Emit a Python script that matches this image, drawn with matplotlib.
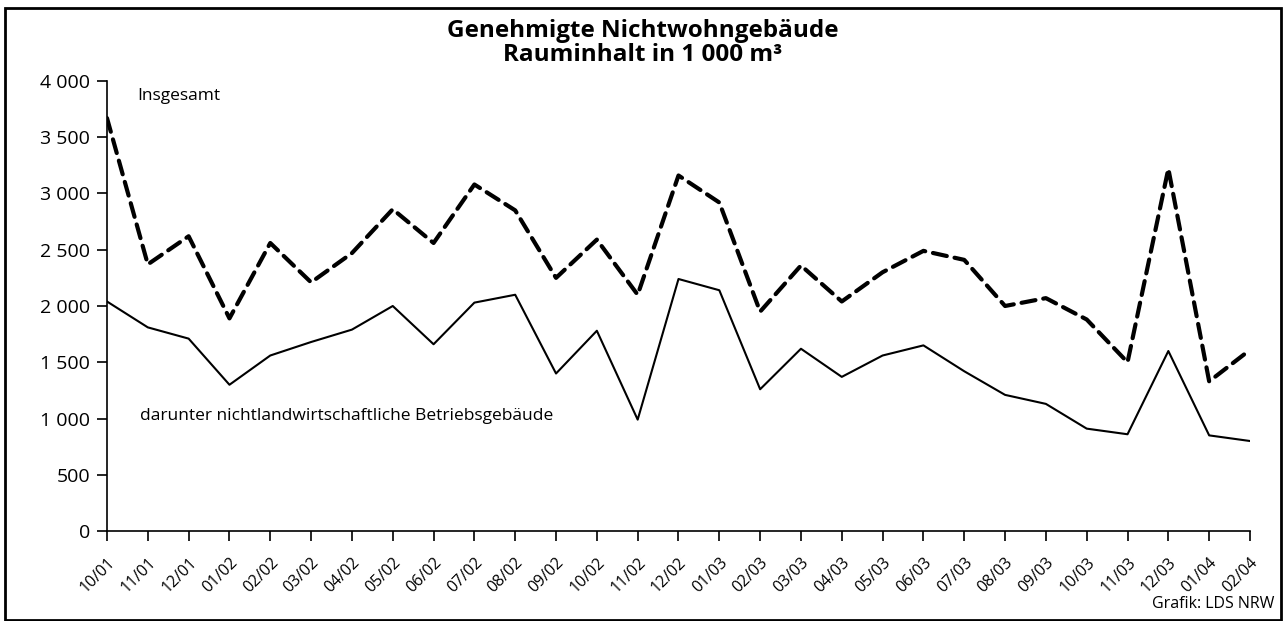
import matplotlib
matplotlib.use("Agg")
import matplotlib.pyplot as plt
from matplotlib.patches import Rectangle
from matplotlib.ticker import FuncFormatter

plt.rcParams['font.family'] = ['Open Sans', 'DejaVu Sans']

# months (MM/YY)
months = ["10/01", "11/01", "12/01", "01/02", "02/02", "03/02", "04/02", "05/02",
          "06/02", "07/02", "08/02", "09/02", "10/02", "11/02", "12/02", "01/03",
          "02/03", "03/03", "04/03", "05/03", "06/03", "07/03", "08/03", "09/03",
          "10/03", "11/03", "12/03", "01/04", "02/04"]

# Rauminhalt in 1 000 m3
insgesamt = [3670, 2370, 2620, 1890, 2560, 2210, 2470, 2860,
             2560, 3080, 2850, 2250, 2590, 2100, 3160, 2920,
             1950, 2360, 2040, 2300, 2490, 2410, 2000, 2070,
             1880, 1500, 3220, 1330, 1610]
betriebsgebaeude = [2040, 1810, 1710, 1300, 1560, 1680, 1790, 2000,
                    1660, 2030, 2100, 1400, 1780, 990, 2240, 2140,
                    1260, 1620, 1370, 1560, 1650, 1420, 1210, 1130,
                    910, 860, 1600, 850, 800]

fig = plt.figure(figsize=(12.86, 6.21), dpi=100)
ax = fig.add_axes([0.0832, 0.1449, 0.8888, 0.7247])

x = range(len(months))
ax.plot(x, insgesamt, color='black', lw=3.0, dashes=(3.4, 1.9),
        dash_capstyle='round', solid_joinstyle='miter')
ax.plot(x, betriebsgebaeude, color='black', lw=1.5)

ax.set_xlim(0, len(months) - 1)
ax.set_ylim(0, 4000)
ax.set_yticks(range(0, 4001, 500))
ax.yaxis.set_major_formatter(FuncFormatter(lambda v, p: f"{int(v):,}".replace(",", " ")))
ax.set_xticks(list(x))
ax.set_xticklabels(months, rotation=45, ha='right', rotation_mode='anchor', fontsize=11.5)
ax.tick_params(axis='y', labelsize=14, length=7, width=1.2, pad=5)
ax.tick_params(axis='x', length=7, width=1.2, pad=10)
for s in ['top', 'right']:
    ax.spines[s].set_visible(False)
for s in ['left', 'bottom']:
    ax.spines[s].set_linewidth(1.2)

ax.text(0.75, 3870, "Insgesamt", fontsize=12.5, va='center', ha='left')
ax.text(0.82, 1020, "darunter nichtlandwirtschaftliche Betriebsgebäude",
        fontsize=12.5, va='center', ha='left')

fig.text(0.5, 0.931, "Genehmigte Nichtwohngebäude\nRauminhalt in 1 000 m³",
         ha='center', va='center', fontsize=17.5, fontweight='bold', linespacing=1.0)
fig.text(0.991, 0.027, "Grafik: LDS NRW", ha='right', va='center', fontsize=11.5)

fig.patches.append(Rectangle((0.0035, 0.002), 0.9925, 0.985, transform=fig.transFigure,
                             fill=False, edgecolor='black', lw=2))

fig.savefig("out.png", dpi=100)
